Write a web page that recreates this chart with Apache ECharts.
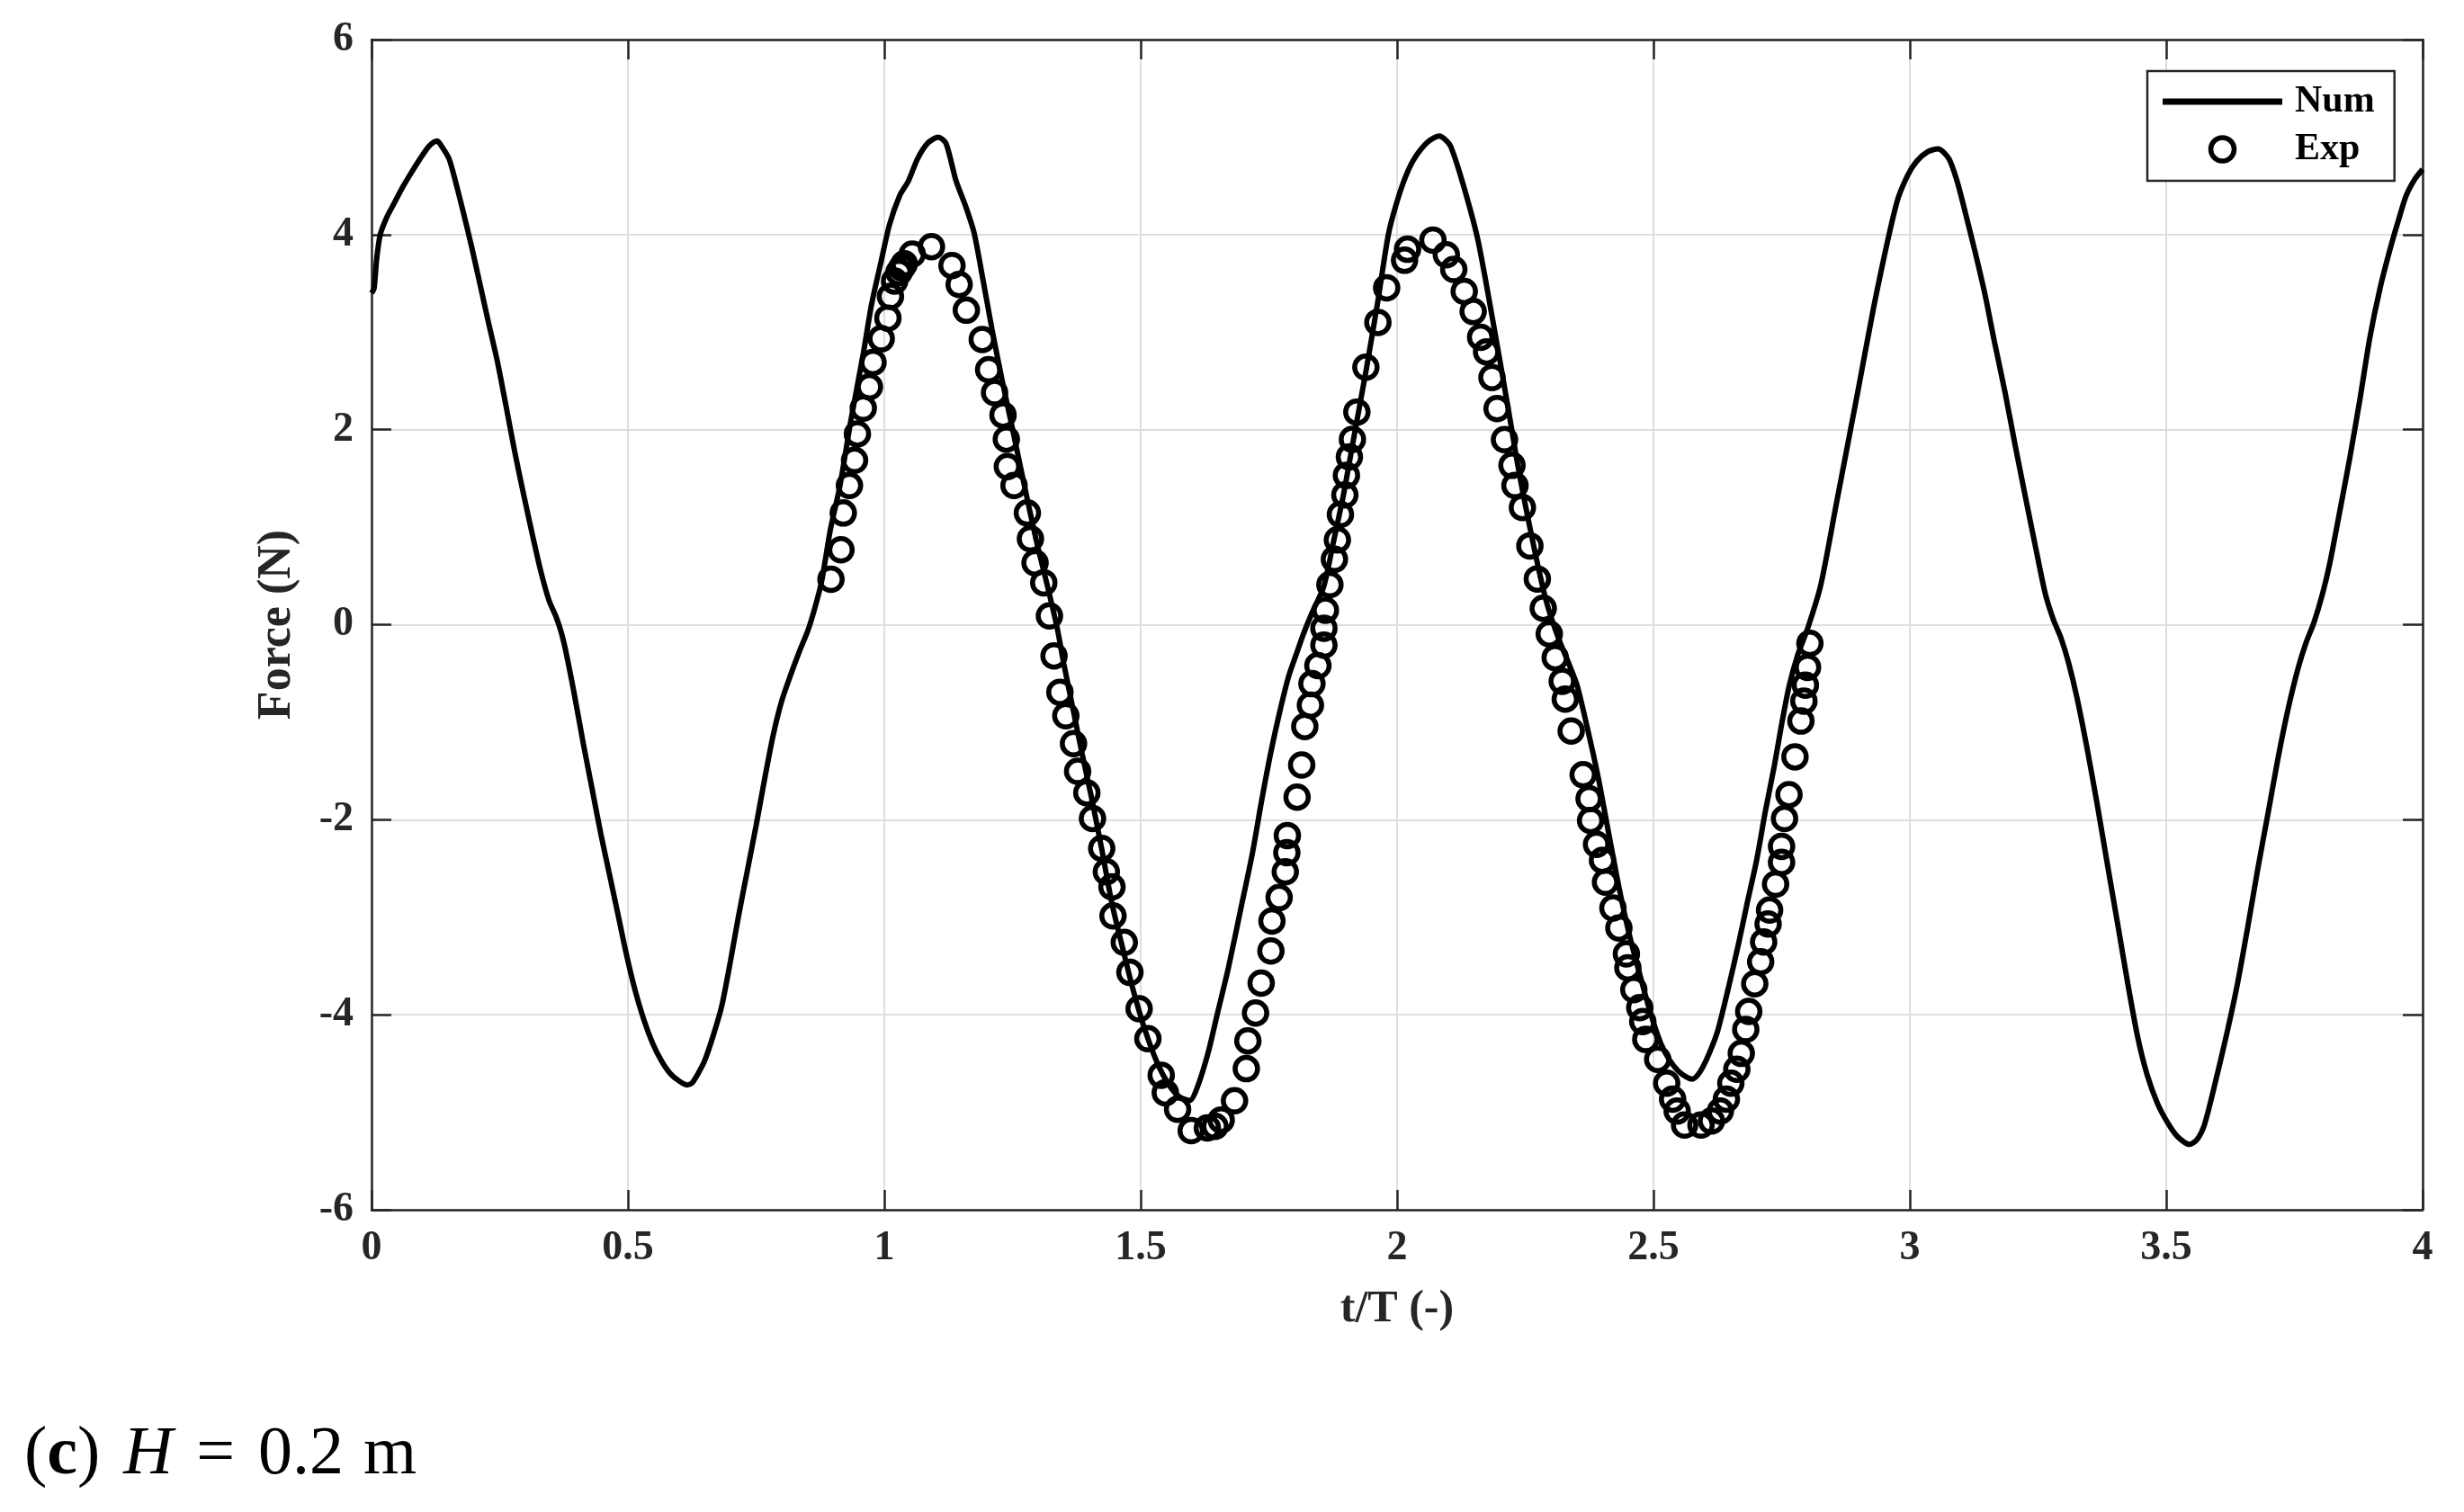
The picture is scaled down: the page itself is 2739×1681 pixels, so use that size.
<!DOCTYPE html>
<html>
<head>
<meta charset="utf-8">
<script src="https://cdn.jsdelivr.net/npm/echarts@6.0.0/dist/echarts.min.js"></script>
<style>
html,body{margin:0;padding:0;background:#fff;}
#chart{width:2739px;height:1681px;}
</style>
</head>
<body>
<div id="chart"></div>
<script>
// ---------- data ----------
const xTickLabels = ['0','0.5','1','1.5','2','2.5','3','3.5','4'];
const yTickLabels = ['-6','-4','-2','0','2','4','6'];

const numT = [0.000,0.005,0.010,0.017,0.030,0.044,0.060,0.077,0.095,0.111,0.122,0.128,0.135,0.151,0.165,0.178,0.195,0.212,0.228,0.245,0.262,0.279,0.296,0.313,0.330,0.346,0.360,0.370,0.380,0.395,0.413,0.430,0.447,0.464,0.481,0.497,0.514,0.531,0.548,0.565,0.582,0.600,0.615,0.625,0.635,0.649,0.666,0.683,0.700,0.716,0.733,0.750,0.766,0.783,0.800,0.817,0.834,0.851,0.865,0.878,0.895,0.913,0.935,0.959,0.975,0.994,1.010,1.030,1.047,1.065,1.085,1.105,1.120,1.140,1.158,1.175,1.192,1.210,1.230,1.250,1.273,1.297,1.318,1.337,1.350,1.369,1.386,1.404,1.424,1.444,1.465,1.485,1.508,1.532,1.555,1.575,1.596,1.610,1.631,1.650,1.671,1.695,1.718,1.735,1.753,1.770,1.788,1.805,1.817,1.834,1.857,1.876,1.895,1.915,1.940,1.962,1.983,2.000,2.017,2.035,2.060,2.082,2.095,2.105,2.128,2.157,2.186,2.215,2.238,2.268,2.291,2.314,2.335,2.351,2.372,2.392,2.412,2.433,2.453,2.474,2.494,2.514,2.532,2.549,2.565,2.576,2.586,2.596,2.610,2.625,2.645,2.666,2.683,2.701,2.718,2.736,2.750,2.765,2.782,2.800,2.826,2.857,2.896,2.935,2.974,2.995,3.013,3.035,3.055,3.076,3.092,3.107,3.126,3.146,3.165,3.185,3.205,3.225,3.245,3.264,3.280,3.295,3.310,3.326,3.345,3.365,3.385,3.405,3.425,3.444,3.463,3.483,3.502,3.522,3.545,3.560,3.575,3.600,3.620,3.639,3.659,3.678,3.698,3.718,3.737,3.757,3.773,3.788,3.805,3.819,3.838,3.858,3.878,3.897,3.917,3.937,3.953,3.968,3.985,4.000];
const numF = [3.40,3.45,3.75,4.00,4.18,4.32,4.48,4.63,4.78,4.90,4.95,4.96,4.92,4.78,4.52,4.25,3.88,3.48,3.10,2.71,2.25,1.78,1.35,0.94,0.55,0.25,0.08,-0.08,-0.30,-0.70,-1.22,-1.68,-2.14,-2.56,-2.98,-3.38,-3.75,-4.05,-4.29,-4.47,-4.60,-4.68,-4.72,-4.70,-4.62,-4.48,-4.22,-3.91,-3.45,-2.98,-2.52,-2.06,-1.60,-1.14,-0.78,-0.52,-0.28,-0.06,0.18,0.45,0.98,1.41,2.10,2.78,3.28,3.73,4.10,4.40,4.55,4.78,4.94,5.00,4.94,4.55,4.30,4.02,3.55,3.03,2.50,2.01,1.43,0.85,0.40,-0.03,-0.40,-0.89,-1.33,-1.77,-2.30,-2.86,-3.32,-3.74,-4.15,-4.49,-4.72,-4.84,-4.88,-4.75,-4.40,-3.98,-3.52,-2.92,-2.34,-1.83,-1.33,-0.92,-0.54,-0.28,-0.10,0.12,0.39,0.85,1.32,1.90,2.62,3.30,4.00,4.34,4.60,4.79,4.95,5.01,4.97,4.90,4.53,3.96,3.14,2.27,1.56,0.77,0.24,-0.13,-0.40,-0.62,-1.08,-1.56,-2.12,-2.70,-3.18,-3.60,-3.98,-4.29,-4.47,-4.58,-4.64,-4.66,-4.62,-4.54,-4.38,-4.17,-3.75,-3.27,-2.85,-2.42,-1.92,-1.44,-1.02,-0.62,-0.30,-0.05,0.40,1.25,2.32,3.40,4.32,4.60,4.75,4.85,4.88,4.78,4.55,4.25,3.85,3.40,2.90,2.40,1.85,1.32,0.80,0.32,0.05,-0.14,-0.40,-0.75,-1.25,-1.83,-2.45,-3.06,-3.68,-4.22,-4.62,-4.91,-5.10,-5.25,-5.33,-5.28,-5.12,-4.60,-4.15,-3.68,-3.10,-2.52,-1.95,-1.37,-0.88,-0.45,-0.18,0.02,0.32,0.63,1.15,1.71,2.32,2.94,3.45,3.86,4.15,4.40,4.57,4.67];

const expT = [0.896,0.9155,0.920,0.932,0.942,0.9475,0.959,0.971,0.978,0.994,1.007,1.012,1.020,1.0285,1.034,1.039,1.0545,1.092,1.132,1.146,1.160,1.191,1.2035,1.215,1.2315,1.238,1.240,1.253,1.279,1.285,1.294,1.311,1.322,1.331,1.3425,1.354,1.369,1.377,1.395,1.406,1.424,1.433,1.444,1.446,1.468,1.479,1.497,1.514,1.540,1.548,1.572,1.5985,1.630,1.645,1.657,1.683,1.706,1.709,1.724,1.735,1.754,1.756,1.770,1.782,1.785,1.786,1.805,1.814,1.820,1.831,1.834,1.8456,1.8573,1.8573,1.8602,1.8690,1.8778,1.8836,1.8895,1.8982,1.9012,1.9070,1.9129,1.9216,1.9392,1.9626,1.9797,2.0146,2.0204,2.0699,2.0961,2.1106,2.131,2.1484,2.163,2.1746,2.1851,2.195,2.2095,2.2241,2.2299,2.2444,2.259,2.2735,2.2851,2.2968,2.3084,2.3221,2.328,2.3396,2.3629,2.3745,2.3774,2.389,2.4006,2.4065,2.421,2.4326,2.4472,2.4501,2.4617,2.4733,2.4792,2.485,2.5083,2.5258,2.5374,2.5462,2.5607,2.5927,2.6131,2.6305,2.6422,2.6509,2.6626,2.6713,2.680,2.6858,2.6975,2.7091,2.7149,2.7236,2.7265,2.7382,2.7498,2.7498,2.7556,2.7643,2.776,2.7876,2.7934,2.7963,2.8004,2.8051];
const expF = [0.465,0.768,1.145,1.427,1.685,1.956,2.22,2.439,2.689,2.932,3.144,3.366,3.524,3.612,3.66,3.70,3.80,3.877,3.683,3.489,3.225,2.925,2.615,2.379,2.15,1.903,1.621,1.427,1.145,0.881,0.634,0.43,0.09,-0.32,-0.693,-0.934,-1.219,-1.504,-1.724,-1.987,-2.294,-2.535,-2.689,-2.987,-3.259,-3.566,-3.939,-4.246,-4.62,-4.80,-4.97,-5.189,-5.16,-5.145,-5.079,-4.882,-4.553,-4.268,-3.982,-3.675,-3.346,-3.039,-2.798,-2.535,-2.338,-2.162,-1.768,-1.439,-1.044,-0.825,-0.605,-0.42,-0.21,-0.037,0.148,0.41,0.67,0.87,1.13,1.33,1.53,1.72,1.90,2.18,2.64,3.10,3.455,3.737,3.85,3.944,3.793,3.643,3.418,3.211,2.948,2.798,2.535,2.216,1.897,1.634,1.427,1.202,0.808,0.469,0.169,-0.094,-0.338,-0.58,-0.763,-1.09,-1.539,-1.784,-2.008,-2.253,-2.416,-2.641,-2.906,-3.11,-3.376,-3.518,-3.743,-3.927,-4.07,-4.253,-4.457,-4.702,-4.865,-4.988,-5.131,-5.131,-5.09,-4.988,-4.865,-4.702,-4.559,-4.396,-4.151,-3.967,-3.682,-3.457,-3.253,-3.069,-2.927,-2.661,-2.437,-2.273,-1.988,-1.743,-1.355,-0.988,-0.784,-0.62,-0.437,-0.192];

// ---------- chart ----------
const FONT = '"Liberation Serif", "Times New Roman", serif';
const AXIS_COLOR = '#262626';
const numData = numT.map((t, i) => [t, numF[i]]);
const expData = expT.map((t, i) => [t, expF[i]]);

const chart = echarts.init(document.getElementById('chart'), null, {renderer: 'canvas'});

const baseX = {
  type: 'value', min: 0, max: 4, interval: 0.5,
  axisLine: {show: true, onZero: false, lineStyle: {color: AXIS_COLOR, width: 2.5}},
  axisTick: {show: true, inside: true, length: 22, lineStyle: {color: AXIS_COLOR, width: 2.5}}
};
const baseY = {
  type: 'value', min: -6, max: 6, interval: 2,
  axisLine: {show: true, onZero: false, lineStyle: {color: AXIS_COLOR, width: 2.5}},
  axisTick: {show: true, inside: true, length: 22, lineStyle: {color: AXIS_COLOR, width: 2.5}}
};

const option = {
  backgroundColor: '#ffffff',
  animation: false,
  grid: {left: 413, right: 46, top: 44, bottom: 336, containLabel: false},
  xAxis: [
    Object.assign({}, baseX, {
      position: 'bottom',
      name: 't/T (-)', nameLocation: 'middle', nameGap: 86,
      nameTextStyle: {fontFamily: FONT, fontWeight: 'bold', fontSize: 50, color: '#262626'},
      axisLabel: {show: true, margin: 20, fontFamily: FONT, fontWeight: 'bold', fontSize: 46, color: '#262626',
        formatter: (v) => { const i = Math.round(v / 0.5); return xTickLabels[i]; }},
      splitLine: {show: true, lineStyle: {color: '#dedede', width: 2}}
    }),
    Object.assign({}, baseX, {
      position: 'top',
      axisLabel: {show: false},
      splitLine: {show: false}
    })
  ],
  yAxis: [
    Object.assign({}, baseY, {
      position: 'left',
      name: 'Force (N)', nameLocation: 'middle', nameGap: 78, nameRotate: 90,
      nameTextStyle: {fontFamily: FONT, fontWeight: 'bold', fontSize: 52, color: '#262626'},
      axisLabel: {show: true, margin: 20, fontFamily: FONT, fontWeight: 'bold', fontSize: 46, color: '#262626',
        formatter: (v) => { const i = Math.round((v + 6) / 2); return yTickLabels[i]; }},
      splitLine: {show: true, lineStyle: {color: '#dedede', width: 2}}
    }),
    Object.assign({}, baseY, {
      position: 'right',
      axisLabel: {show: false},
      splitLine: {show: false}
    })
  ],
  legend: {
    show: true,
    orient: 'vertical',
    left: 2387, top: 79,
    padding: [11, 22, 12, 17],
    itemGap: 7,
    itemWidth: 133, itemHeight: 26,
    borderColor: AXIS_COLOR, borderWidth: 2.5,
    backgroundColor: '#ffffff',
    selectedMode: false,
    textStyle: {fontFamily: FONT, fontWeight: 'bold', fontSize: 42, color: '#000', lineHeight: 46, padding: [0, 0, 0, 9]},
    data: [
      {name: 'Num', icon: 'path://M0,0 H133 V7 H0 Z', itemStyle: {color: '#000', borderWidth: 0, opacity: 1}},
      {name: 'Exp', icon: 'circle', itemStyle: {color: 'transparent', borderColor: '#000', borderWidth: 5.5, opacity: 1}}
    ]
  },
  graphic: [{
    type: 'text',
    left: 27, top: 1580,
    style: {
      text: '({b|c}){g|}{i|H}{g|}={g|}0.2{s|}m',
      fontFamily: FONT, fontSize: 76, fill: '#000',
      rich: {
        b: {fontFamily: FONT, fontWeight: 'bold', fontSize: 76},
        i: {fontFamily: FONT, fontStyle: 'italic', fontSize: 76},
        g: {width: 26},
        s: {width: 22}
      }
    }
  }],
  series: [
    {
      name: 'Num', type: 'line', data: numData,
      xAxisIndex: 0, yAxisIndex: 0,
      symbol: 'none', showSymbol: false, smooth: 0.25,
      lineStyle: {color: '#000', width: 6},
      itemStyle: {color: '#000'},
      z: 2
    },
    {
      name: 'Exp', type: 'scatter', data: expData,
      xAxisIndex: 0, yAxisIndex: 0,
      symbol: 'circle', symbolSize: 25,
      itemStyle: {color: 'transparent', borderColor: '#000', borderWidth: 5.5, opacity: 1},
      z: 3
    }
  ]
};
chart.setOption(option);
</script>
</body>
</html>
